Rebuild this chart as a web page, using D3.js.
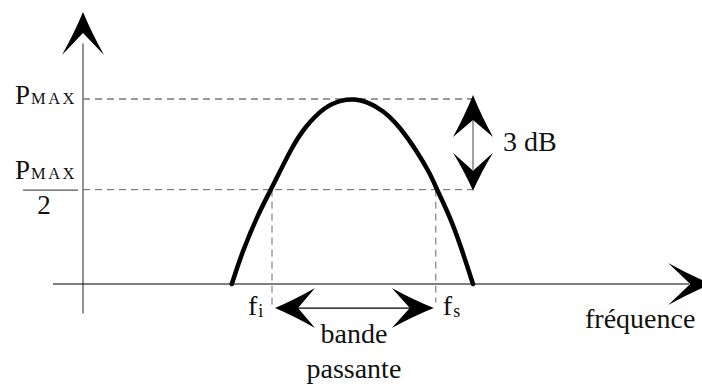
<!DOCTYPE html>
<html>
<head>
<meta charset="utf-8">
<script src="https://cdn.jsdelivr.net/npm/d3@7"></script>
</head>
<body style="margin:0">
<div id="chart" style="position:relative;width:702px;height:387px"></div>
<script>
// band-pass response (power as a fraction of Pmax)
const curveFreq  = [2.98, 3.15, 3.42, 3.65, 3.98, 4.2, 4.53, 4.81, 5.03, 5.23, 5.5, 5.78, 6.06, 6.28, 6.4, 6.62, 6.78, 7.0]
const curvePower = [0, 0.17, 0.38, 0.52, 0.74, 0.85, 0.96, 0.995, 1.0, 0.985, 0.94, 0.85, 0.72, 0.6, 0.51, 0.36, 0.22, 0]

const levels = [1.0, 0.51]          // Pmax, Pmax/2
const cutoffs = [3.65, 6.38]        // fi, fs
const cutoffNames = ['i', 's']
const freqExtent = [0, 10.97]       // horizontal axis
const powerExtent = [-0.16, 1.47]   // vertical axis
const axisFreq = 0.5                // where the vertical axis stands

const width = 702, height = 387

const chart = d3.select('#chart')
const svg = chart
  .append('svg')
    .attr('width', width)
    .attr('height', height)
    .style('position', 'absolute')
    .style('left', 0).style('top', 0)

const x = d3.scaleLinear().domain([0, 10]).range([53, 653])
const y = d3.scaleLinear().domain([0, 1]).range([284, 99])

const dbX = x(curveFreq[curveFreq.length - 1])
const bandMid = (x(cutoffs[0]) + x(cutoffs[1])) / 2

// swept arrowhead: tip, direction, length, half width, notch depth
const arrowHead = (tx, ty, dx, dy, len, hw, notch) => {
  const px = -dy, py = dx
  const bx = tx - dx * len, by = ty - dy * len
  const b1 = [bx + px * hw, by + py * hw]
  const b2 = [bx - px * hw, by - py * hw]
  const n = [tx - dx * notch, ty - dy * notch]
  const c1 = [(tx + b1[0]) / 2 - px * 2 + dx * 1, (ty + b1[1]) / 2 - py * 2 + dy * 1]
  const c2 = [(tx + b2[0]) / 2 + px * 2 + dx * 1, (ty + b2[1]) / 2 + py * 2 + dy * 1]
  return 'M' + tx + ',' + ty +
    'Q' + c1 + ' ' + b1 +
    'L' + n +
    'L' + b2 +
    'Q' + c2 + ' ' + tx + ',' + ty + 'Z'
}

// fraction bar under the second Pmax
svg.append('line')
  .attr('x1', 23).attr('x2', 78)
  .attr('y1', y(levels[1]) + 0.5).attr('y2', y(levels[1]) + 0.5)
  .attr('stroke', '#555')
  .attr('stroke-width', 1.2)

// dashed guide lines
svg.selectAll('line.level')
  .data(levels)
  .enter()
  .append('line')
    .attr('x1', x(axisFreq))
    .attr('x2', dbX)
    .attr('y1', d => y(d))
    .attr('y2', d => y(d))
    .attr('stroke', (d, i) => i === 0 ? '#333' : '#666')
    .attr('stroke-width', 1)
    .attr('stroke-dasharray', '7,5')

svg.selectAll('line.cutoff')
  .data(cutoffs)
  .enter()
  .append('line')
    .attr('x1', d => x(d))
    .attr('x2', d => x(d))
    .attr('y1', y(levels[1]))
    .attr('y2', (d, i) => y(i === 0 ? -0.115 : -0.1))
    .attr('stroke', '#666')
    .attr('stroke-width', 1)
    .attr('stroke-dasharray', '7,5')

// axes
svg.append('line')
  .attr('x1', x(axisFreq)).attr('x2', x(axisFreq))
  .attr('y1', y(powerExtent[0])).attr('y2', y(1.3))
  .attr('stroke', '#777')
  .attr('stroke-width', 1.6)
svg.append('path')
  .attr('d', arrowHead(x(axisFreq), y(powerExtent[1]), 0, -1, 43, 21, 21))
  .attr('fill', '#000')

svg.append('line')
  .attr('x1', x(freqExtent[0])).attr('x2', x(10.6))
  .attr('y1', y(0)).attr('y2', y(0))
  .attr('stroke', '#000')
  .attr('stroke-width', 1.2)
svg.append('path')
  .attr('d', arrowHead(x(freqExtent[1]), y(0), 1, 0, 43, 21, 21))
  .attr('fill', '#000')

// response curve
const line = d3.line()
  .x((d, i) => x(curveFreq[i]))
  .y(d => y(d))
  .curve(d3.curveBasis)

svg.append('path')
  .datum(curvePower)
  .attr('d', line)
  .attr('fill', 'none')
  .attr('stroke', '#000')
  .attr('stroke-width', 4.5)
  .attr('stroke-linecap', 'round')
  .attr('stroke-linejoin', 'round')

// 3 dB double arrow
svg.append('line')
  .attr('x1', dbX).attr('x2', dbX)
  .attr('y1', y(levels[0]) + 20).attr('y2', y(levels[1]) - 20)
  .attr('stroke', '#444')
  .attr('stroke-width', 1)
svg.append('path')
  .attr('d', arrowHead(dbX, y(levels[0]) - 4, 0, -1, 42, 20, 25))
  .attr('fill', '#000')
svg.append('path')
  .attr('d', arrowHead(dbX, y(levels[1]) + 1, 0, 1, 38, 20, 20))
  .attr('fill', '#000')

// bandwidth double arrow
const bandY = y(-0.13)
svg.append('line')
  .attr('x1', x(cutoffs[0]) + 20).attr('x2', x(cutoffs[1]) - 20)
  .attr('y1', bandY).attr('y2', bandY)
  .attr('stroke', '#000')
  .attr('stroke-width', 1.2)
svg.append('path')
  .attr('d', arrowHead(x(cutoffs[0]) + 3, bandY, -1, 0, 40, 20, 23))
  .attr('fill', '#000')
svg.append('path')
  .attr('d', arrowHead(x(cutoffs[1]) - 2, bandY, 1, 0, 42, 20, 24))
  .attr('fill', '#000')

// labels as html text on top: [main text, small part, x, baseline y, size, anchor, kind]
const texts = [
  ['P', 'MAX', 15, y(levels[0]) + 6, 27, 'start', 'caps'],
  ['P', 'MAX', 15, 180, 27, 'start', 'caps'],
  ['2', '', 44, 215, 27, 'middle', ''],
  ['3 dB', '', dbX + 30, 151, 28, 'start', ''],
  ['f', cutoffNames[0], x(cutoffs[0]) - 24, 315, 28, 'start', 'sub'],
  ['f', cutoffNames[1], x(cutoffs[1]) + 7, 315, 28, 'start', 'sub'],
  ['bande', '', bandMid, 343, 28, 'middle', ''],
  ['passante', '', bandMid, 378, 28, 'middle', ''],
  ['fréquence', '', 585, 328, 28, 'start', '']
]

chart.selectAll('div.label')
  .data(texts)
  .enter()
  .append('div')
    .attr('class', 'label')
    .style('position', 'absolute')
    .style('white-space', 'nowrap')
    .style('font-family', '"Liberation Serif", "Times New Roman", serif')
    .style('font-size', d => d[4] + 'px')
    .style('line-height', d => d[4] + 'px')
    .style('color', '#111')
    .style('left', d => d[2] + 'px')
    .style('top', d => (d[3] - 0.8375 * d[4]) + 'px')
    .style('transform', d => d[5] === 'middle' ? 'translateX(-50%)' : null)
    .each(function(d) {
      const t = d3.select(this)
      t.append('span').text(d[0])
      if (d[6] === 'caps') {
        t.append('span')
          .style('font-size', '16.5px')
          .style('letter-spacing', '2.5px')
          .style('margin-left', '1px')
          .text(d[1])
      } else if (d[6] === 'sub') {
        t.append('span')
          .style('font-size', '18px')
          .style('position', 'relative')
          .style('top', '2px')
          .style('margin-left', '1px')
          .text(d[1])
      }
    })
</script>
</body>
</html>
